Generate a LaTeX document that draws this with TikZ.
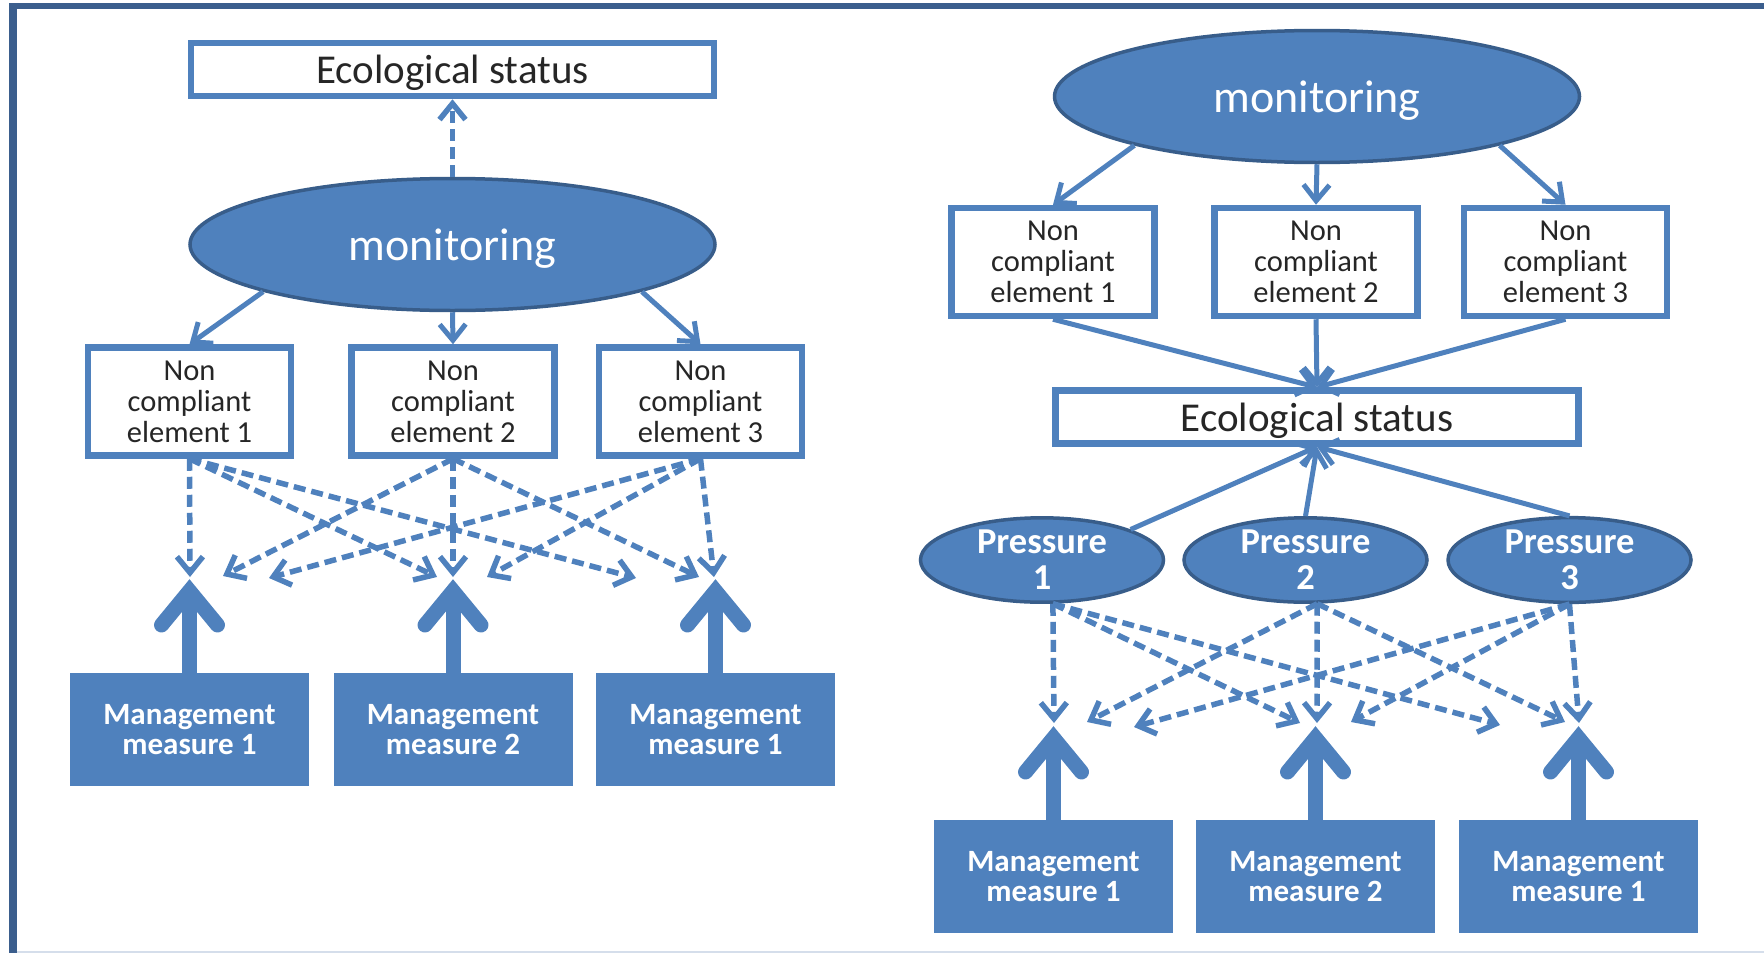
\documentclass[tikz,border=0pt]{standalone}
\usepackage{fontspec}
\setmainfont{Carlito}
\usetikzlibrary{shapes.geometric,arrows.meta,calc}
\definecolor{blu}{HTML}{4F81BD}
\definecolor{bluD}{HTML}{385D8A}
\definecolor{frm}{HTML}{3B5E8D}
\definecolor{frmL}{HTML}{D5DEEB}
\definecolor{txt}{HTML}{262626}
\begin{document}
\begin{tikzpicture}[x=1pt,y=-1pt,
  ebox/.style={draw=blu, line width=6.5pt, fill=white, minimum width=523pt, minimum height=53pt, inner sep=0pt, text depth=0pt, text=txt, font=\fontsize{41}{48}\selectfont},
  ncbox/.style={draw=blu, line width=6.5pt, fill=white, minimum width=203pt, minimum height=108pt, inner sep=0pt, align=center, text=txt, font=\fontsize{30.5}{31}\selectfont},
  mon/.style={ellipse, draw=bluD, line width=3.5pt, fill=blu, minimum width=525pt, minimum height=132pt, inner sep=0pt, text depth=0pt, text=white, font=\fontsize{46}{55}\selectfont},
  pres/.style={ellipse, draw=bluD, line width=3.5pt, fill=blu, minimum width=243pt, minimum height=84pt, inner sep=0pt, align=center, text=white, font=\bfseries\fontsize{36.5}{36}\selectfont},
  mbox/.style={fill=blu, minimum width=239pt, minimum height=113pt, inner sep=0pt, align=center, text=white, font=\bfseries\fontsize{31}{30.5}\selectfont},
  conn/.style={draw=blu, line width=5pt, -{Straight Barb[length=16pt,width=26pt]}},
  dconn/.style={conn, line width=5.5pt, dash pattern=on 12pt off 6pt},
  mshaft/.style={draw=blu, line width=15pt},
  mhead/.style={draw=blu, line width=15pt, line cap=round, line join=miter},
]
\useasboundingbox (0,0) rectangle (1764,953);
% frame
\fill[frm] (9.3,3.3) rectangle (1764,9.3);
\fill[frm] (9.3,3.3) rectangle (17.3,953);
\fill[frmL] (17.3,950.5) rectangle (1764,953);

% ---------- left panel ----------
\node[ebox] (esL) at (452.5,69.5) {Ecological status};
\node[mon] (monL) at (452.5,244.5) {monitoring};
\node[ncbox] (ncL1) at (189.5,401.5) {Non\\compliant\\element 1};
\node[ncbox] (ncL2) at (453,401.5) {Non\\compliant\\element 2};
\node[ncbox] (ncL3) at (700.5,401.5) {Non\\compliant\\element 3};
\node[mbox] (mL1) at (189.5,729.5) {Management\\measure 1};
\node[mbox] (mL2) at (453,729.5) {Management\\measure 2};
\node[mbox] (mL3) at (715.5,729.5) {Management\\measure 1};

\draw[dconn] (monL.north) -- (esL.south);
\draw[conn] (monL.194) -- (ncL1.north);
\draw[conn] (monL.south) -- (ncL2.north);
\draw[conn] (monL.346) -- (ncL3.north);

\coordinate (tL11) at (190,577);
\coordinate (tL12) at (437,577);
\coordinate (tL13) at (636,578);
\coordinate (tL21) at (223,576);
\coordinate (tL22) at (453,577);
\coordinate (tL23) at (699,577);
\coordinate (tL31) at (269,578);
\coordinate (tL32) at (487,577);
\coordinate (tL33) at (714,577);
\foreach \s/\t in {ncL1/tL11,ncL1/tL12,ncL1/tL13,ncL2/tL21,ncL2/tL22,ncL2/tL23,ncL3/tL31,ncL3/tL32,ncL3/tL33}
  \draw[dconn] (\s.south) -- (\t);

% ---------- right panel ----------
\node[mon] (monR) at (1317,96.5) {monitoring};
\node[ncbox] (ncR1) at (1053,262) {Non\\compliant\\element 1};
\node[ncbox] (ncR2) at (1316,262) {Non\\compliant\\element 2};
\node[ncbox] (ncR3) at (1565.5,262) {Non\\compliant\\element 3};
\node[ebox] (esR) at (1317,417) {Ecological status};
\node[pres] (p1) at (1042,560) {Pressure\\1};
\node[pres] (p2) at (1305.5,560) {Pressure\\2};
\node[pres] (p3) at (1569.5,560) {Pressure\\3};
\node[mbox] (mR1) at (1053.5,876.5) {Management\\measure 1};
\node[mbox] (mR2) at (1315.5,876.5) {Management\\measure 2};
\node[mbox] (mR3) at (1578.5,876.5) {Management\\measure 1};

\draw[conn] (monR.195) -- (ncR1.north);
\draw[conn] (monR.south) -- (ncR2.north);
\draw[conn] (monR.345) -- (ncR3.north);
\draw[conn] (ncR1.south) -- (esR.north);
\draw[conn] (ncR2.south) -- (esR.north);
\draw[conn] (ncR3.south) -- (esR.north);
\draw[conn] (p1.19) -- (esR.south);
\draw[conn] (p2.north) -- (esR.south);
\draw[conn] (p3.north) -- (esR.south);

\coordinate (tR11) at (1054,723);
\coordinate (tR12) at (1300,723);
\coordinate (tR13) at (1500,725);
\coordinate (tR21) at (1087,722);
\coordinate (tR22) at (1317,723);
\coordinate (tR23) at (1565,722);
\coordinate (tR31) at (1134,727);
\coordinate (tR32) at (1351,722);
\coordinate (tR33) at (1579,723);
\foreach \t in {tR11,tR12,tR13} \draw[dconn] (p1.-76) -- (\t);
\foreach \t in {tR21,tR22,tR23} \draw[dconn] (p2.-75) -- (\t);
\foreach \t in {tR31,tR32,tR33} \draw[dconn] (p3.south) -- (\t);

% ---------- thick management arrows ----------
\foreach \m/\x/\y in {mL1/189.5/579, mL2/453/579, mL3/715.5/579, mR1/1053.5/726, mR2/1315.5/726, mR3/1578.5/726} {
  \coordinate (tip) at (\x,\y);
  \draw[mshaft] (\m.north) -- ($(tip)+(0,14)$);
  \draw[mhead] ($(tip)+(-28,46)$) -- ($(tip)+(0,12)$) -- ($(tip)+(28,46)$);
}
\end{tikzpicture}
\end{document}
